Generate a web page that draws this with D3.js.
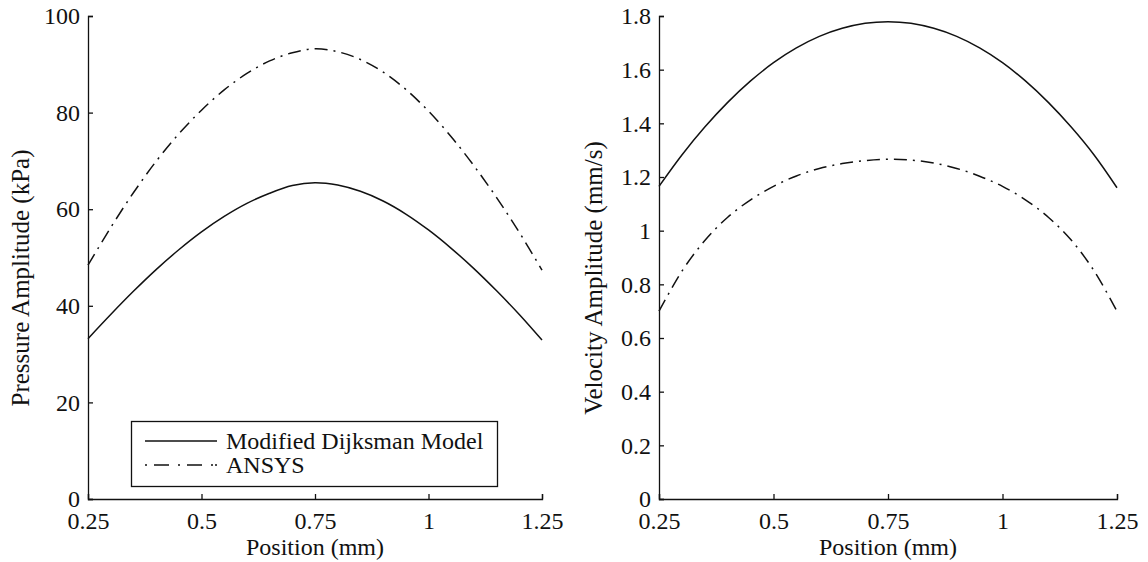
<!DOCTYPE html>
<html>
<head>
<meta charset="utf-8">
<script src="https://cdn.jsdelivr.net/npm/d3@7"></script>
<style>
  body { margin: 0; background: #fff; }
  text { font-family: "Liberation Serif", "DejaVu Serif", serif; fill: #111; }
</style>
</head>
<body>
<div id="chart"></div>
<script>
// positions (mm)
const position = [0.25, 0.3, 0.35, 0.4, 0.45, 0.5, 0.55, 0.6, 0.65, 0.7, 0.75,
                  0.8, 0.85, 0.9, 0.95, 1.0, 1.05, 1.1, 1.15, 1.2, 1.25];

// pressure amplitude (kPa)
const pressureModel = [33.2, 38.2, 43.0, 47.5, 51.6, 55.3, 58.5, 61.2, 63.3, 64.9, 65.5,
                       65.0, 63.7, 61.7, 59.0, 55.7, 51.9, 47.7, 43.1, 38.2, 32.9];
const pressureAnsys = [48.4, 56.2, 63.4, 69.9, 75.6, 80.5, 84.7, 88.1, 90.7, 92.4, 93.2,
                       92.6, 91.0, 88.4, 84.8, 80.3, 75.0, 69.0, 62.4, 55.2, 47.4];

// velocity amplitude (mm/s)
const velocityModel = [1.165, 1.282, 1.386, 1.478, 1.558, 1.626, 1.681, 1.724, 1.754, 1.773, 1.779,
                       1.773, 1.754, 1.724, 1.681, 1.626, 1.558, 1.478, 1.386, 1.282, 1.160];
const velocityAnsys = [0.70, 0.849, 0.963, 1.05, 1.115, 1.165, 1.204, 1.232, 1.25, 1.261, 1.266,
                       1.263, 1.252, 1.232, 1.203, 1.165, 1.115, 1.05, 0.965, 0.85, 0.70];

const xTicks = [0.25, 0.5, 0.75, 1, 1.25];
const xTickLabels = ["0.25", "0.5", "0.75", "1", "1.25"];
const pTicks = [0, 20, 40, 60, 80, 100];
const pTickLabels = ["0", "20", "40", "60", "80", "100"];
const vTicks = [0, 0.2, 0.4, 0.6, 0.8, 1, 1.2, 1.4, 1.6, 1.8];
const vTickLabels = ["0", "0.2", "0.4", "0.6", "0.8", "1", "1.2", "1.4", "1.6", "1.8"];

const seriesNames = ["Modified Dijksman Model", "ANSYS"];
const dashDot = "13,6,2,6";

const svg = d3.select("#chart")
    .append("svg")
    .attr("width", 1148)
    .attr("height", 562);

function drawPanel(opt) {
    const x = d3.scaleLinear().domain([0.25, 1.25]).range([opt.left, opt.right]);
    const y = d3.scaleLinear().domain(opt.yDomain).range([499, 16]);

    // x axis
    const gx = svg.append("g")
        .attr("transform", "translate(0,499)")
        .call(d3.axisBottom(x).tickValues(xTicks)
            .tickFormat((d, i) => xTickLabels[i])
            .tickSizeInner(-5).tickSizeOuter(-5).tickPadding(13));
    gx.selectAll("text").style("font-size", "24px").attr("fill", "#111");

    // y axis
    const gy = svg.append("g")
        .attr("transform", `translate(${opt.left},0)`)
        .call(d3.axisLeft(y).tickValues(opt.yTicks)
            .tickFormat((d, i) => opt.yLabels[i])
            .tickSizeInner(-5).tickSizeOuter(-5).tickPadding(8));
    gy.selectAll("text").style("font-size", "24px").attr("fill", "#111");

    svg.selectAll(".domain, .tick line").attr("stroke", "#111").attr("stroke-width", 1.3);

    const line = d3.line()
        .x((d, i) => x(position[i]))
        .y(d => y(d))
        .curve(d3.curveCatmullRom);

    svg.append("path")
        .datum(opt.model)
        .attr("d", line)
        .attr("fill", "none")
        .attr("stroke", "#111")
        .attr("stroke-width", 1.5);

    svg.append("path")
        .datum(opt.ansys)
        .attr("d", line)
        .attr("fill", "none")
        .attr("stroke", "#111")
        .attr("stroke-width", 1.5)
        .attr("stroke-dasharray", dashDot);

    // axis titles
    svg.append("text")
        .attr("x", (opt.left + opt.right) / 2)
        .attr("y", 555)
        .attr("text-anchor", "middle")
        .attr("font-size", "24px")
        .text("Position (mm)");

    svg.append("text")
        .attr("transform", `translate(${opt.titleX},${opt.titleY}) rotate(-90)`)
        .attr("text-anchor", "middle")
        .attr("font-size", "25px")
        .text(opt.yTitle);
}

drawPanel({
    left: 88, right: 542, yDomain: [0, 100],
    yTicks: pTicks, yLabels: pTickLabels,
    model: pressureModel, ansys: pressureAnsys,
    yTitle: "Pressure Amplitude (kPa)", titleX: 29, titleY: 278
});

drawPanel({
    left: 659, right: 1117, yDomain: [0, 1.8],
    yTicks: vTicks, yLabels: vTickLabels,
    model: velocityModel, ansys: velocityAnsys,
    yTitle: "Velocity Amplitude (mm/s)", titleX: 602, titleY: 278
});

// legend
const legend = svg.append("g");
legend.append("rect")
    .attr("x", 131.5).attr("y", 421.5)
    .attr("width", 366).attr("height", 65)
    .attr("fill", "#fff").attr("stroke", "#111").attr("stroke-width", 1.3);

seriesNames.forEach((name, i) => {
    const ly = 441 + i * 24;
    legend.append("line")
        .attr("x1", 145).attr("x2", 217)
        .attr("y1", ly).attr("y2", ly)
        .attr("stroke", "#111").attr("stroke-width", 1.5)
        .attr("stroke-dasharray", i === 0 ? null : "2,7,15,9,2,7,15,9,2");
    legend.append("text")
        .attr("x", 226).attr("y", ly + 8)
        .attr("font-size", "24px")
        .text(name);
});
</script>
</body>
</html>
